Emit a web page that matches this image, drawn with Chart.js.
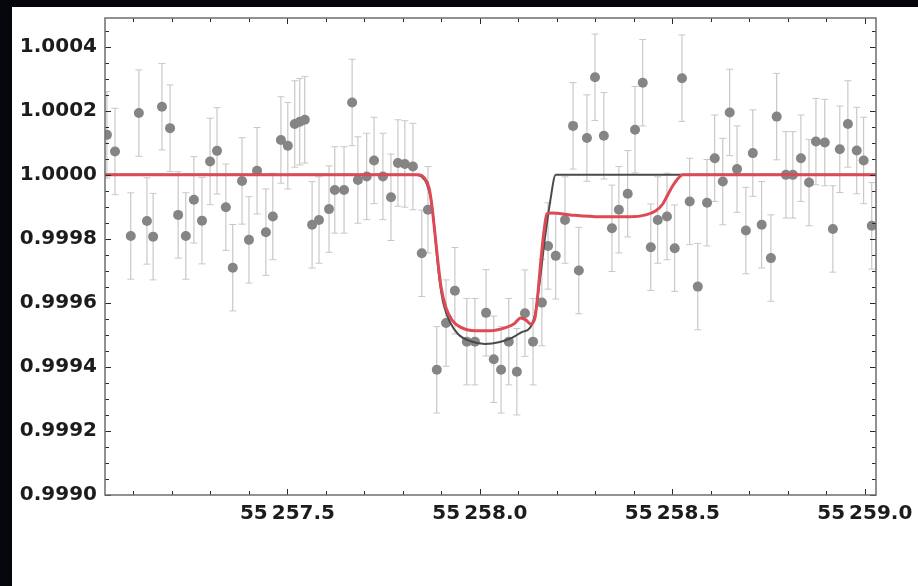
<!DOCTYPE html>
<html>
<head>
<meta charset="utf-8">
<script src="https://cdn.jsdelivr.net/npm/chart.js@4.4.1/dist/chart.umd.min.js"></script>
<style>
  html, body { margin: 0; padding: 0; background: #04060c; }
  body { width: 918px; height: 586px; position: relative; overflow: hidden; }
  #chart { position: absolute; left: 12px; top: 7px; background: #fff; }
</style>
</head>
<body>
<canvas id="chart" width="906" height="579"></canvas>
<script>
const obsTime = [
  55257.031, 55257.052, 55257.093, 55257.114, 55257.135, 55257.151, 55257.174, 55257.195,
  55257.216, 55257.236, 55257.257, 55257.278, 55257.299, 55257.317, 55257.340, 55257.358,
  55257.382, 55257.400, 55257.421, 55257.444, 55257.462, 55257.483, 55257.501, 55257.519,
  55257.532, 55257.545, 55257.564, 55257.582, 55257.608, 55257.623, 55257.647, 55257.668,
  55257.683, 55257.706, 55257.725, 55257.748, 55257.769, 55257.787, 55257.805, 55257.826,
  55257.849, 55257.865, 55257.888, 55257.912, 55257.935, 55257.966, 55257.987, 55258.016,
  55258.036, 55258.055, 55258.075, 55258.096, 55258.117, 55258.138, 55258.161, 55258.177,
  55258.197, 55258.221, 55258.242, 55258.257, 55258.278, 55258.299, 55258.322, 55258.343,
  55258.361, 55258.384, 55258.403, 55258.423, 55258.444, 55258.462, 55258.486, 55258.506,
  55258.525, 55258.545, 55258.566, 55258.590, 55258.610, 55258.631, 55258.649, 55258.668,
  55258.691, 55258.709, 55258.732, 55258.756, 55258.771, 55258.795, 55258.813, 55258.834,
  55258.855, 55258.873, 55258.896, 55258.917, 55258.935, 55258.956, 55258.979, 55258.997,
  55259.018,
];
const obsFlux = [
  1.000125, 1.000073, 0.999809, 1.000193, 0.999856, 0.999807, 1.000213, 1.000146,
  0.999875, 0.999809, 0.999922, 0.999857, 1.000042, 1.000075, 0.999899, 0.999710,
  0.999981, 0.999797, 1.000013, 0.999821, 0.999870, 1.000109, 1.000091, 1.000159,
  1.000166, 1.000172, 0.999844, 0.999859, 0.999893, 0.999953, 0.999953, 1.000226,
  0.999984, 0.999995, 1.000045, 0.999995, 0.999930, 1.000037, 1.000034, 1.000026,
  0.999755, 0.999891, 0.999391, 0.999537, 0.999638, 0.999479, 0.999479, 0.999569,
  0.999424, 0.999391, 0.999479, 0.999385, 0.999568, 0.999479, 0.999601, 0.999778,
  0.999747, 0.999859, 1.000153, 0.999701, 1.000115, 1.000305, 1.000122, 0.999833,
  0.999891, 0.999941, 1.000141, 1.000288, 0.999774, 0.999859, 0.999870, 0.999771,
  1.000302, 0.999917, 0.999651, 0.999913, 1.000052, 0.999979, 1.000195, 1.000018,
  0.999826, 1.000068, 0.999844, 0.999740, 1.000182, 1.000000, 1.000000, 1.000052,
  0.999976, 1.000104, 1.000101, 0.999831, 1.000080, 1.000159, 1.000076, 1.000045,
  0.999841,
];
const obsErr = 0.000135;

// Single-transit model (dark gray)
const modelATime = [
  55257.026, 55257.831, 55257.849, 55257.862, 55257.873, 55257.881, 55257.888, 55257.896,
  55257.906, 55257.922, 55257.943, 55257.974, 55258.013, 55258.052, 55258.083, 55258.109,
  55258.130, 55258.143, 55258.156, 55258.169, 55258.182, 55258.197, 55259.029,
];
const modelAFlux = [
  1.0, 1.0, 0.999994, 0.999972, 0.999922, 0.999844, 0.999750, 0.999663,
  0.999594, 0.999541, 0.999503, 0.999481, 0.999472, 0.999478, 0.999491, 0.999509,
  0.999522, 0.999563, 0.999672, 0.999803, 0.999913, 1.0, 1.0,
];

// Two-body model (red)
const modelBTime = [
  55257.026, 55257.839, 55257.855, 55257.868, 55257.875, 55257.883, 55257.891, 55257.899,
  55257.912, 55257.927, 55257.948, 55257.987, 55258.026, 55258.065, 55258.088, 55258.106,
  55258.119, 55258.132, 55258.143, 55258.151, 55258.158, 55258.166, 55258.174, 55258.187,
  55258.234, 55258.312, 55258.390, 55258.431, 55258.457, 55258.475, 55258.488, 55258.501,
  55258.514, 55258.527, 55259.029,
];
const modelBFlux = [
  1.0, 1.0, 0.999991, 0.999959, 0.999906, 0.999819, 0.999728, 0.999650,
  0.999584, 0.999547, 0.999525, 0.999513, 0.999513, 0.999522, 0.999534, 0.999553,
  0.999547, 0.999534, 0.999553, 0.999634, 0.999728, 0.999819, 0.999878, 0.999881,
  0.999875, 0.999869, 0.999869, 0.999875, 0.999888, 0.999909, 0.999938, 0.999966,
  0.999988, 1.0, 1.0,
];

// Axis ticks
const xTickValues = [55257.5, 55258.0, 55258.5, 55259.0];
const xTickLabels = ["55\u2009257.5", "55\u2009258.0", "55\u2009258.5", "55\u2009259.0"];
const yTickValues = [0.9990, 0.9992, 0.9994, 0.9996, 0.9998, 1.0000, 1.0002, 1.0004];
const yTickLabels = ["0.9990", "0.9992", "0.9994", "0.9996", "0.9998", "1.0000", "1.0002", "1.0004"];

const X_MIN = 55257.026, X_MAX = 55259.029;
const Y_MIN = 0.9990, Y_MAX = 1.00049;

const pts = (xs, ys) => xs.map((x, i) => ({ x, y: ys[i] }));

// error bars: low, high, gap
const errSegs = obsTime.flatMap((x, i) => [
  { x, y: obsFlux[i] - obsErr },
  { x, y: obsFlux[i] + obsErr },
  { x, y: null },
]);

// Mathematica-style frame with inward ticks on all four sides
const frameTicks = {
  id: "frameTicks",
  afterDraw(chart) {
    const { ctx, chartArea: a, scales: { x, y } } = chart;
    ctx.save();
    ctx.strokeStyle = "#2a2a2a";
    ctx.lineWidth = 1;
    ctx.beginPath();
    for (let k = 1; k <= 20; k++) {
      const v = 55257 + k * 0.1;
      if (v < X_MIN || v > X_MAX) continue;
      const px = Math.round(x.getPixelForValue(v)) + 0.5;
      const len = k % 5 === 0 ? 6 : 4;
      ctx.moveTo(px, a.bottom); ctx.lineTo(px, a.bottom - len);
      ctx.moveTo(px, a.top); ctx.lineTo(px, a.top + len);
    }
    for (let k = 0; k <= 29; k++) {
      const v = 0.999 + k * 0.00005;
      if (v > Y_MAX) continue;
      const py = Math.round(y.getPixelForValue(v)) + 0.5;
      const len = k % 4 === 0 ? 6 : 4;
      ctx.moveTo(a.left, py); ctx.lineTo(a.left + len, py);
      ctx.moveTo(a.right, py); ctx.lineTo(a.right - len, py);
    }
    ctx.stroke();
    ctx.strokeStyle = "#6e6e6e";
    ctx.lineWidth = 1.5;
    ctx.strokeRect(a.left, a.top, a.right - a.left, a.bottom - a.top);
    ctx.restore();
  },
};

new Chart(document.getElementById("chart"), {
  type: "scatter",
  data: {
    datasets: [
      {
        type: "line",
        data: pts(modelBTime, modelBFlux),
        borderColor: "rgb(221,74,86)",
        borderWidth: 3,
        pointRadius: 0,
        cubicInterpolationMode: "monotone",
        order: 1,
      },
      {
        type: "line",
        data: pts(modelATime, modelAFlux),
        borderColor: "#4a4a4a",
        borderWidth: 2,
        pointRadius: 0,
        cubicInterpolationMode: "monotone",
        order: 2,
      },
      {
        data: pts(obsTime, obsFlux),
        backgroundColor: "#858585",
        borderWidth: 0,
        pointRadius: 5,
        order: 3,
      },
      {
        type: "line",
        data: errSegs,
        borderColor: "#bdbdbd",
        borderWidth: 1,
        spanGaps: false,
        pointStyle: "line",
        pointRadius: 3.5,
        pointBorderColor: "#c8c8c8",
        pointBorderWidth: 1,
        order: 4,
      },
    ],
  },
  options: {
    responsive: false,
    animation: false,
    events: [],
    layout: { padding: { top: 11, right: 42, left: 0, bottom: 0 } },
    plugins: { legend: { display: false }, tooltip: { enabled: false } },
    scales: {
      x: {
        type: "linear",
        min: X_MIN,
        max: X_MAX,
        grid: { display: false, drawTicks: false },
        border: { display: false },
        afterBuildTicks: (s) => { s.ticks = xTickValues.map((v) => ({ value: v })); },
        afterFit: (s) => { s.height = 91; s.paddingLeft = 0; s.paddingRight = 0; },
        ticks: {
          padding: 7,
          color: "#1c1c1c",
          font: { family: "DejaVu Sans", size: 20, weight: "bold" },
          maxRotation: 0,
          autoSkip: false,
          callback: (v, i) => xTickLabels[i],
        },
      },
      y: {
        min: Y_MIN,
        max: Y_MAX,
        grid: { display: false, drawTicks: false },
        border: { display: false },
        afterBuildTicks: (s) => { s.ticks = yTickValues.map((v) => ({ value: v })); },
        afterFit: (s) => { s.width = 93; s.paddingTop = 0; s.paddingBottom = 0; },
        ticks: {
          padding: 8,
          color: "#1c1c1c",
          font: { family: "DejaVu Sans", size: 20, weight: "bold" },
          autoSkip: false,
          callback: (v, i) => yTickLabels[i],
        },
      },
    },
  },
  plugins: [frameTicks],
});
</script>
</body>
</html>
